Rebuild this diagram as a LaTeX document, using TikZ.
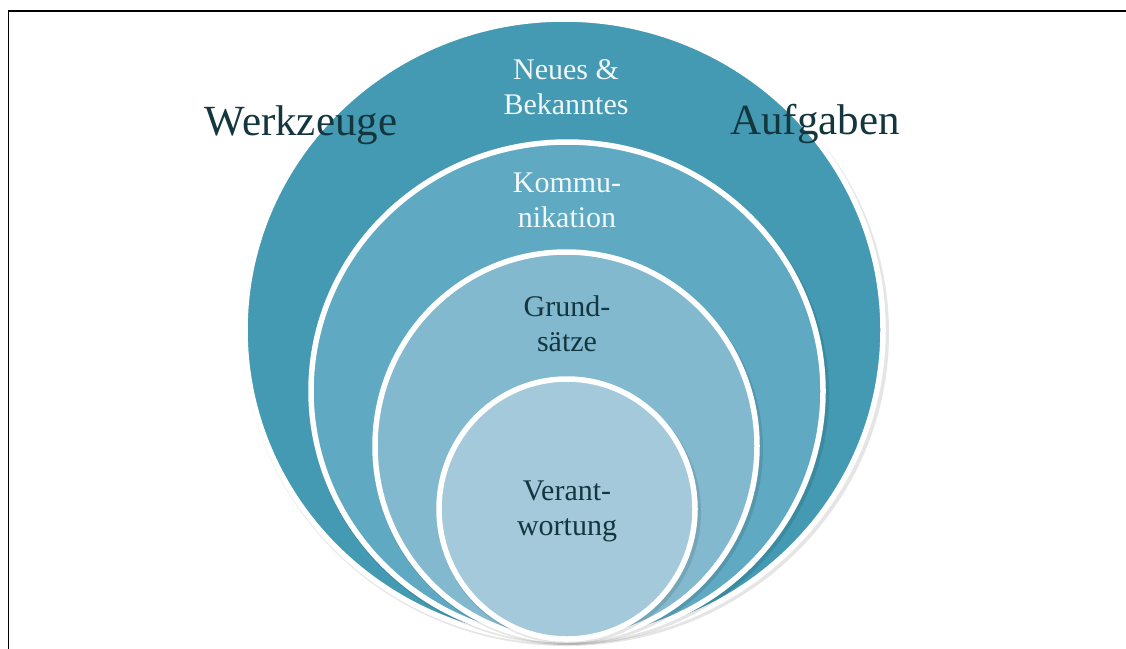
\documentclass[tikz,border=0pt]{standalone}
\usepackage{fontspec}
\setmainfont{Liberation Serif}
\definecolor{ringA}{HTML}{439AB2}
\definecolor{ringB}{HTML}{5FAAC2}
\definecolor{ringC}{HTML}{82B9CE}
\definecolor{ringD}{HTML}{A3C9DA}
\definecolor{darktxt}{HTML}{14363F}
\definecolor{lighttxt}{HTML}{F2F8FA}
\tikzset{
  ring/.style={draw=white, line width=5.5pt},
  ringshadow/.style={fill=black, opacity=0.10},
  bigtxt/.style={font=\fontsize{43}{48}\selectfont, text=darktxt, inner sep=0pt},
  lbl/.style={font=\fontsize{30}{35}\selectfont, align=center, inner sep=0pt},
}
\begin{document}
\begin{tikzpicture}[x=1pt,y=-1pt]
\useasboundingbox (0,0) rectangle (1126,648);
\clip (0,0) rectangle (1126,648);
\fill[white] (0,0) rectangle (1126,648);
\draw[line width=1.5pt] (8.5,11) rectangle (1140,670);
% outer ring
\fill[ringshadow] (566,333) ellipse [x radius=323pt, y radius=313pt];
\path[ring, fill=ringA] (564,330) ellipse [x radius=319pt, y radius=311pt];
% second
\fill[ringshadow] (569,394) ellipse [x radius=260pt, y radius=251pt];
\path[ring, fill=ringB] (567,391) ellipse [x radius=256pt, y radius=249pt];
% third
\fill[ringshadow] (568,449) ellipse [x radius=195pt, y radius=196pt];
\path[ring, fill=ringC] (566,446) ellipse [x radius=191pt, y radius=194pt];
% inner
\fill[ringshadow] (569,512) ellipse [x radius=132pt, y radius=132pt];
\path[ring, fill=ringD] (567,509) ellipse [x radius=128pt, y radius=130pt];
% labels
\node[bigtxt, anchor=base] (werk) at (301,135) {Werkzeuge};
\node[bigtxt, anchor=base] (aufg) at (815,134) {Aufgaben};
\node[lbl, text=lighttxt] (neu) at (566,87) {Neues \&\\Bekanntes};
\node[lbl, text=lighttxt] (komm) at (567,200) {Kommu-\\nikation};
\node[lbl, text=darktxt] (grund) at (567,324) {Grund-\\sätze};
\node[lbl, text=darktxt] (ver) at (567,511) {Verant-\\wortung};
\end{tikzpicture}
\end{document}
